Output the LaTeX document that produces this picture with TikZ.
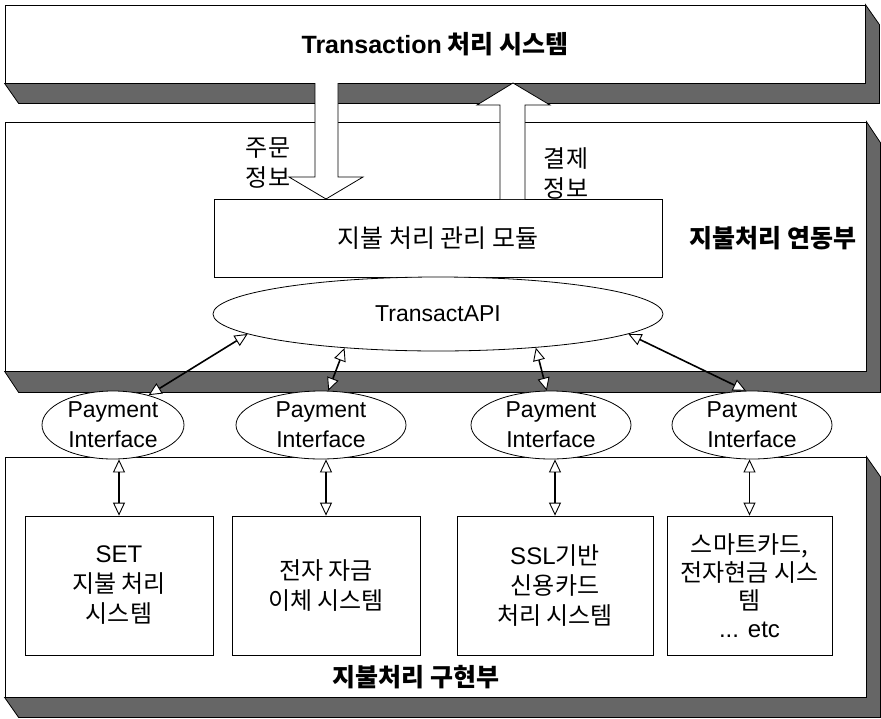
\documentclass[tikz,border=0pt]{standalone}
\usepackage{fontspec}
\setmainfont{Noto Sans CJK KR}
\newfontfamily\lat{Liberation Sans}
\usetikzlibrary{arrows.meta,shapes.geometric,calc}
\tikzset{
  tri/.tip={Triangle[fill=white,line width=0.9pt,length=13pt,width=12pt]},
  face/.style={draw=black, line width=0.8pt, fill=white, inner sep=0pt},
  shadowband/.style={fill=black!60, draw=black, line width=0.8pt},
  sysbox/.style={draw=black, line width=0.8pt, fill=white, inner sep=0pt, align=center,
     font=\fontsize{24}{30}\selectfont},
  piell/.style={ellipse, draw=black, line width=0.8pt, fill=white, inner sep=0pt, align=center,
     font=\lat\fontsize{23}{30}\selectfont, minimum height=68pt},
  conn/.style={line width=1.6pt, tri-tri},
  lbl/.style={inner sep=0pt, align=center, font=\fontsize{24}{30}\selectfont},
  boldlbl/.style={inner sep=0pt, font=\bfseries\fontsize{25}{30}\selectfont}
}
\begin{document}
\begin{tikzpicture}[x=1pt,y=-1pt]
\useasboundingbox (0,0) rectangle (881,718);
\fill[white] (0,0) rectangle (881,718);

% ---- top box: Transaction system
\node[face, minimum width=860pt, minimum height=78pt] (tps) at (435,44) {};
\draw[shadowband] (tps.south west) -- ($(tps.south west)+(14,20)$) -- ($(tps.south east)+(14,20)$)
   -- ($(tps.north east)+(14,20)$) -- (tps.north east) -- (tps.south east) -- cycle;
\node[boldlbl] (tpst) at (tps.center) {{\lat Transaction} 처리 시스템};

% ---- middle box
\node[face, minimum width=861pt, minimum height=249pt] (mid) at (435.5,246.5) {};
\draw[shadowband] (mid.south west) -- ($(mid.south west)+(14,21)$) -- ($(mid.south east)+(14,21)$)
   -- ($(mid.north east)+(14,21)$) -- (mid.north east) -- (mid.south east) -- cycle;
\node[boldlbl] (midl) at (773,238) {지불처리 연동부};

% ---- bottom box
\node[face, minimum width=861pt, minimum height=240pt] (bot) at (435.5,577) {};
\draw[shadowband] (bot.south west) -- ($(bot.south west)+(14,20)$) -- ($(bot.south east)+(14,20)$)
   -- ($(bot.north east)+(14,20)$) -- (bot.north east) -- (bot.south east) -- cycle;
\node[boldlbl] (botl) at (416,677) {지불처리 구현부};

% ---- module box and API
\node[face, minimum width=448pt, minimum height=78pt, font=\fontsize{25}{30}\selectfont] (mod) at (438,238) {지불 처리 관리 모듈};
\node[ellipse, draw=black, line width=0.8pt, fill=white, inner sep=0pt, minimum width=450pt, minimum height=74pt,
      font=\lat\fontsize{23}{30}\selectfont] (api) at (438,314) {TransactAPI};

% ---- payment interfaces
\node[piell, minimum width=142pt] (pi1) at (113,425) {Payment\\Interface};
\node[piell, minimum width=170pt] (pi2) at (321,425) {Payment\\Interface};
\node[piell, minimum width=160pt] (pi3) at (551,425) {Payment\\Interface};
\node[piell, minimum width=160pt] (pi4) at (752,425) {Payment\\Interface};

% ---- system boxes
\node[sysbox, minimum width=188pt, minimum height=139pt] (b1) at (119,585.5) {{\lat SET}\\지불 처리\\시스템};
\node[sysbox, minimum width=188pt, minimum height=139pt] (b2) at (326,585.5) {전자 자금\\이체 시스템};
\node[sysbox, minimum width=196pt, minimum height=139pt] (b3) at (555,585.5) {{\lat SSL}기반\\신용카드\\처리 시스템};
\node[sysbox, minimum width=165pt, minimum height=139pt, font=\fontsize{24}{28}\selectfont] (b4) at (749.5,585.5) {스마트카드,\\전자현금 시스\\템\\{\lat ... etc}};

% ---- block arrows
\fill[white] (315,83) -- (315,177) -- (289,177) -- (326,199) -- (363,177) -- (338,177) -- (338,83) -- cycle;
\draw[line width=0.8pt] (315,83) -- (315,177) -- (289,177) -- (326,199) -- (363,177) -- (338,177) -- (338,83);
\fill[white] (500,199) -- (500,105) -- (477,105) -- (513,83) -- (550,105) -- (525,105) -- (525,199) -- cycle;
\draw[line width=0.8pt] (500,199) -- (500,105) -- (477,105) -- (513,83) -- (550,105) -- (525,105) -- (525,199);
\node[lbl] (ord) at (268,163) {주문\\정보};
\node[lbl] (pay) at (566,173) {결제\\정보};

% ---- connectors PI <-> API
\draw[conn] (pi1.40) -- (api.186);
\draw[conn] (pi2.78) -- (api.200);
\draw[conn] (pi3.97) -- (api.341);
\draw[conn] (pi4.100) -- (api.354.5);

% ---- connectors PI <-> systems
\draw[conn] (b1.north |- pi1.south) -- (b1.north);
\draw[conn] (b2.north |- pi2.south) -- (b2.north);
\draw[conn] (b3.north |- pi3.south) -- (b3.north);
\draw[conn] (b4.north |- pi4.south) -- (b4.north);
\end{tikzpicture}
\end{document}
